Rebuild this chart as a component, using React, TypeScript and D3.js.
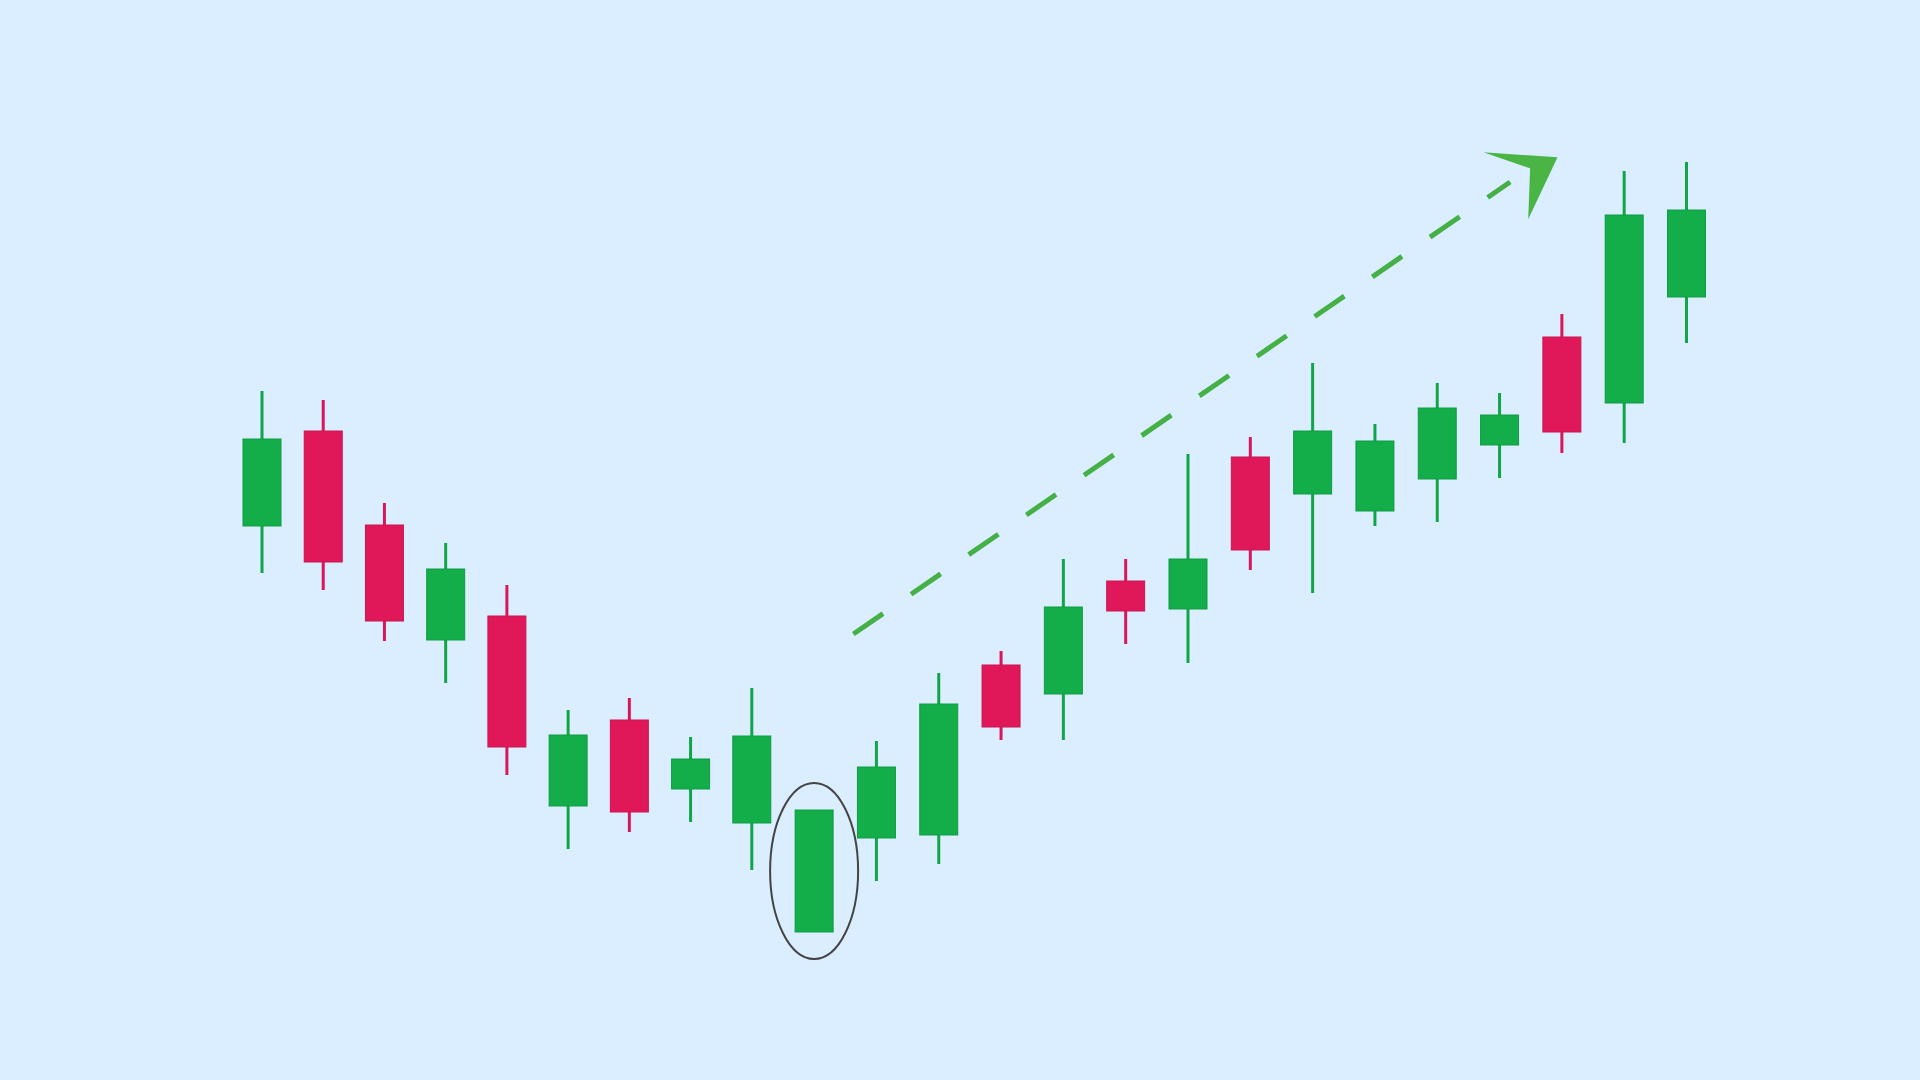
import * as d3 from 'd3';

// OHLC values (arbitrary price units)
const days = d3.range(24);
const opens = [47.4, 56.9, 47.5, 36.0, 38.4, 19.4, 28.0, 21.1, 17.7, 6.8, 16.2, 16.5, 33.5, 30.6, 41.9, 39.1, 54.3, 50.6, 48.9, 52.1, 55.5, 66.3, 59.7, 70.3];
const highs = [60.9, 60.0, 49.7, 45.7, 41.5, 29.0, 30.2, 26.3, 31.2, 19.0, 25.9, 32.7, 34.9, 44.1, 44.1, 54.6, 56.3, 63.7, 57.6, 61.7, 60.7, 68.6, 82.9, 83.8];
const lows = [42.7, 41.0, 35.9, 31.7, 22.5, 15.1, 16.8, 17.8, 13.0, 6.8, 11.9, 13.6, 26.0, 26.0, 35.6, 33.7, 43.0, 40.7, 47.4, 47.8, 52.2, 54.7, 55.7, 65.7];
const closes = [56.1, 43.8, 37.9, 43.1, 25.3, 26.5, 18.8, 24.1, 26.4, 19.0, 23.3, 29.6, 27.3, 39.3, 38.9, 44.1, 45.0, 56.9, 55.9, 59.2, 58.5, 56.8, 78.5, 79.0];

// highlighted candle and trend arrow (in day index / price units)
const highlightDay = 9;
const trendStart = [9.63, 36.6];
const trendEnd = [20.17, 81.8];
const arrowHead = [[19.74, 84.77], [20.93, 84.27], [20.46, 78.07], [20.49, 83.17]];

const W = 1920;
const H = 1080;
const GREEN = '#13ad4a';
const RED = '#e0185a';

export default function App() {
  // candles are spaced a little tighter on the left side of the picture
  const x = d3.scaleLinear().domain([0, 8, 23]).range([262, 751.8, 1686.5]);
  const y = d3.scaleLinear().domain([0, 90]).range([1000, 100]);
  const bodyW = 38;

  const candles = days.map((d, i) => ({
    day: d,
    open: opens[i],
    high: highs[i],
    low: lows[i],
    close: closes[i],
  }));

  const line = d3.line<number[]>()
    .x(p => x(p[0]))
    .y(p => y(p[1]));

  const hx = x(highlightDay);
  const hMid = (opens[highlightDay] + closes[highlightDay]) / 2;

  return (
    <svg width={W} height={H} style={{ position: 'fixed', left: 0, top: 0, display: 'block' }}>
      <rect width={W} height={H} fill="#dbeeff" />

      {candles.map(c => {
        const up = c.close >= c.open;
        const col = up ? GREEN : RED;
        const edge = up ? '#0f9c42' : '#c9164f';
        const cx = x(c.day);
        const top = y(Math.max(c.open, c.close));
        const bot = y(Math.min(c.open, c.close));
        return (
          <g key={c.day}>
            {c.high > c.low && (
              <line x1={cx} x2={cx} y1={y(c.high)} y2={y(c.low)}
                stroke={up ? '#12a548' : '#d8175a'} strokeWidth={3} />
            )}
            <rect x={cx - bodyW / 2} y={top} width={bodyW} height={bot - top}
              fill={col} stroke={edge} strokeWidth={1} />
          </g>
        );
      })}

      {/* highlighted candle */}
      <ellipse cx={hx} cy={y(hMid)} rx={44} ry={88} fill="none" stroke="#444" strokeWidth={2} />

      {/* trend arrow */}
      <path d={line([trendStart, trendEnd]) || ''} fill="none" stroke="#44b046"
        strokeWidth={5} strokeDasharray="36 34" />
      <path d={(line(arrowHead) || '') + 'Z'} fill="#4ab445" />
    </svg>
  );
}
